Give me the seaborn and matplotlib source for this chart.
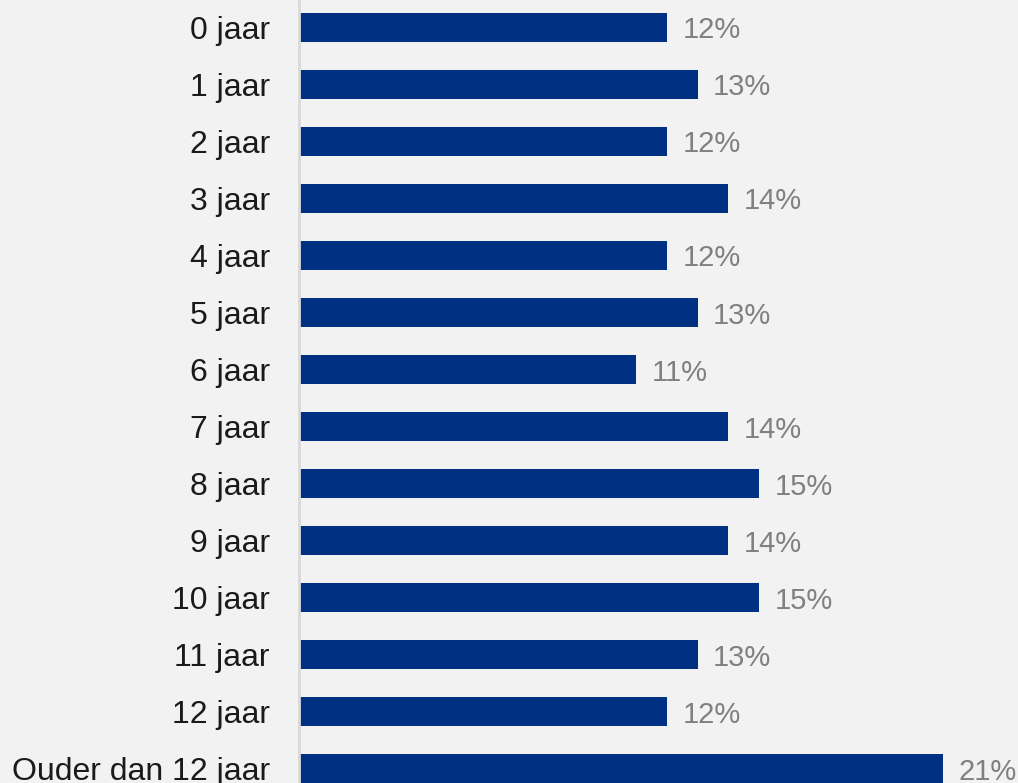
"""Horizontal bar chart: share per age category (jaar)."""
import matplotlib
matplotlib.use("Agg")
import matplotlib.pyplot as plt
import pandas as pd
import seaborn as sns

categories = ["0 jaar", "1 jaar", "2 jaar", "3 jaar", "4 jaar", "5 jaar", "6 jaar",
              "7 jaar", "8 jaar", "9 jaar", "10 jaar", "11 jaar", "12 jaar",
              "Ouder dan 12 jaar"]
percentages = [12, 13, 12, 14, 12, 13, 11, 14, 15, 14, 15, 13, 12, 21]

BG = "#F2F2F2"
BAR = "#003082"

sns.set_theme(style="white")
plt.rcParams["font.family"] = ["Liberation Sans", "DejaVu Sans"]

df = pd.DataFrame({"categorie": categories, "pct": percentages})

fig = plt.figure(figsize=(10.18, 7.83), dpi=100, facecolor=BG)
ax = fig.add_axes([299 / 1018, 0, 1 - 299 / 1018, 1])
ax.set_facecolor(BG)

sns.barplot(data=df, x="pct", y="categorie", color=BAR, width=0.51,
            saturation=1, linewidth=0, ax=ax)

ax.set_xlim(0, (1018 - 299) / 30.67)
ax.set_ylim(13.25, -0.48)

# value labels next to each bar
for i, v in enumerate(percentages):
    ax.annotate(f"{v}%", (v, i), xytext=(11, 0), textcoords="offset points",
                va="center_baseline", ha="left", fontsize=21, color="#808080")

ax.set_xlabel("")
ax.set_ylabel("")
ax.set_xticks([])
ax.tick_params(axis="y", length=0, pad=21, labelsize=23, labelcolor="#1A1A1A")
for side in ["top", "right", "bottom"]:
    ax.spines[side].set_visible(False)
ax.spines["left"].set_color("#D9D9D9")
ax.spines["left"].set_linewidth(2)

fig.savefig("out.png", dpi=100, facecolor=BG)
